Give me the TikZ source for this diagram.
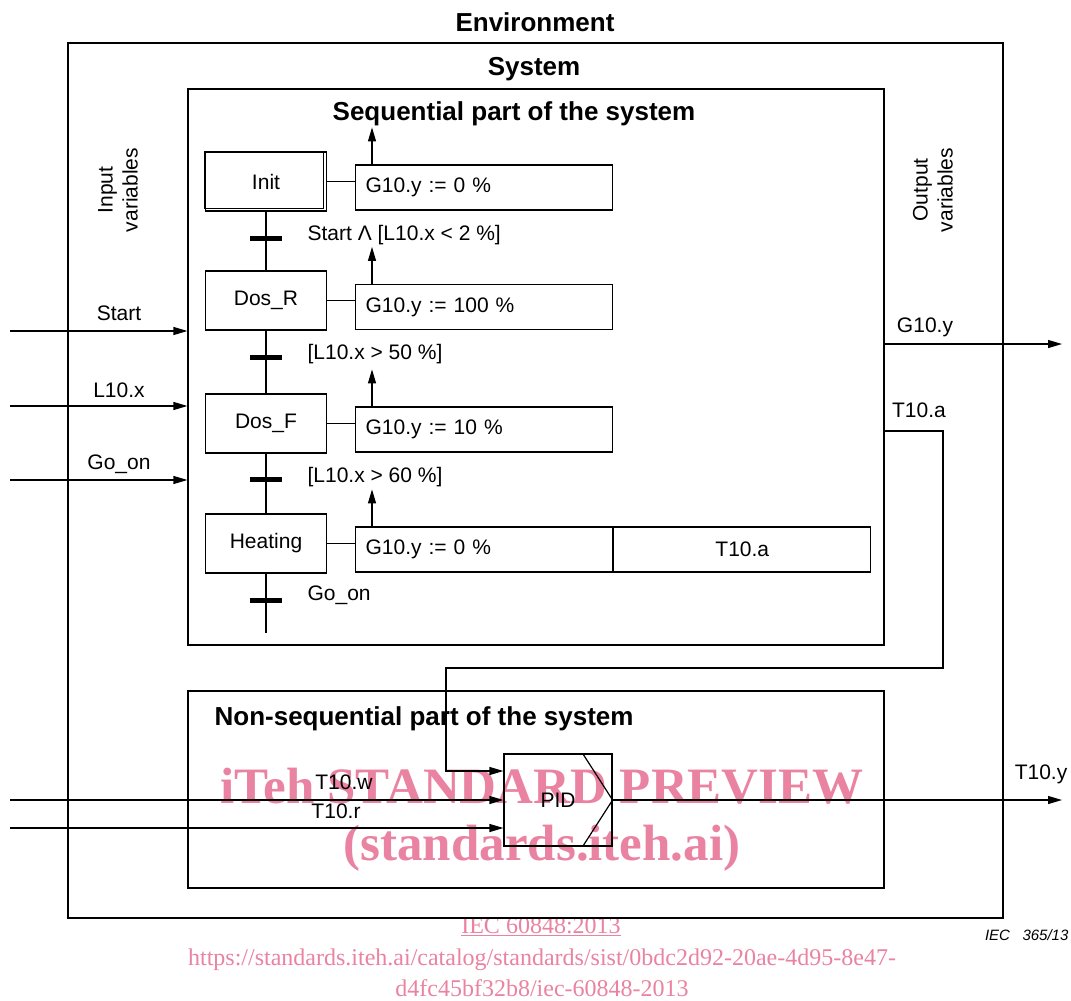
\documentclass[tikz,border=0pt]{standalone}
\usepackage{fontspec}
\setmainfont{Liberation Sans}
\newfontfamily\wmfont{Liberation Serif}
\usetikzlibrary{arrows.meta}
\definecolor{wmpink}{HTML}{EA83A2}
\tikzset{
  box/.style={draw,inner sep=0pt},
  stepbox/.style={draw,minimum width=121pt,minimum height=59pt,inner sep=0pt,
    font=\fontsize{21}{25}\selectfont},
  actbox/.style={draw,anchor=west,minimum height=45pt,text width=237pt,
    inner xsep=10pt,inner ysep=0pt,align=left,font=\fontsize{21}{25}\selectfont},
  trbar/.style={fill=black,minimum width=32pt,minimum height=5pt,inner sep=0pt},
  head/.style={font=\bfseries\fontsize{26}{30}\selectfont,inner sep=0pt},
  lbl/.style={font=\fontsize{21}{25}\selectfont,inner sep=0pt},
  sig/.style={-{Triangle[length=14pt,width=8pt]}},
  wmbig/.style={text=wmpink,font=\wmfont\bfseries\fontsize{51}{56}\selectfont,
    inner sep=0pt,anchor=base},
  wmsmall/.style={text=wmpink,font=\wmfont\fontsize{24}{28}\selectfont,
    inner sep=0pt,anchor=base},
}

\begin{document}
\begin{tikzpicture}[x=1pt,y=-1pt,line width=1.2pt,line join=miter]
\useasboundingbox (0,0) rectangle (1071,1001);
\fill[white] (0,0) rectangle (1071,1001);

% watermark (behind the drawing)
\node[wmbig] (wm1) at (542,803) {iTeh STANDARD PREVIEW};
\node[wmbig] (wm2) at (542,860) {(standards.iteh.ai)};
\node[wmsmall] (wm3) at (541,933) {\underline{IEC 60848:2013}};
\node[wmsmall] (wm4) at (542,965)
  {https://standards.iteh.ai/catalog/standards/sist/0bdc2d92-20ae-4d95-8e47-};
\node[wmsmall] (wm5) at (542,996) {d4fc45bf32b8/iec-60848-2013};

% frames
\node[head] (envt) at (535,22) {Environment};
\node[box,minimum width=935pt,minimum height=875pt] (sys) at (535.5,480.5) {};
\node[head] (syst) at (534,69) {System};
\node[box,minimum width=696pt,minimum height=556pt] (seq) at (536,367) {};
\node[head] (seqt) at (514,113.5) {Sequential part of the system};
\node[box,minimum width=696pt,minimum height=197pt] (nseq) at (536,789.5) {};
\node[head,anchor=west] (nseqt) at (214,719) {Non-sequential part of the system};

\node[lbl,rotate=90,align=center] (invar) at (118,190) {Input\\variables};
\node[lbl,rotate=90,align=center] (outvar) at (933,190) {Output\\variables};

% steps
\node[stepbox] (init) at (266,181.5) {Init};
\draw (init.north west) rectangle ([shift={(-4pt,3pt)}]init.south east);
\node[stepbox] (dosr) at (266,300.5) {Dos\_R};
\node[stepbox] (dosf) at (266,423.5) {Dos\_F};
\node[stepbox] (heat) at (266,543.5) {Heating};
\coordinate (seqend) at (266,633);
\draw (init) -- (dosr) -- (dosf) -- (heat) -- (seqend);

% transitions
\node[trbar] (t1) at (266,238) {};
\node[trbar] (t2) at (266,357) {};
\node[trbar] (t3) at (266,479) {};
\node[trbar] (t4) at (266,600) {};
\node[lbl,anchor=base west] (c1) at (307,240) {Start Λ [L10.x < 2 \%]};
\node[lbl,anchor=base west] (c2) at (307,359) {[L10.x > 50 \%]};
\node[lbl,anchor=base west] (c3) at (307,482) {[L10.x > 60 \%]};
\node[lbl,anchor=base west] (c4) at (307,600) {Go\_on};

% actions
\node[actbox] (act1) at (355,187.5) {G10.y := 0 \%};
\node[actbox] (act2) at (355,307) {G10.y := 100 \%};
\node[actbox] (act3) at (355,429.5) {G10.y := 10 \%};
\node[actbox] (act4) at (355,549.5) {G10.y := 0 \%};
\node[actbox,align=center] (act4b) at (act4.east) {T10.a};
\draw (init.east) -- (init.east -| act1.west);
\draw (dosr.east) -- (dosr.east -| act2.west);
\draw (dosf.east) -- (dosf.east -| act3.west);
\draw (heat.east) -- (heat.east -| act4.west);
\foreach \a in {act1,act2,act3,act4}
  \draw[sig] ([xshift=17pt]\a.north west) -- ++(0,-37);

% input variables
\foreach \nm/\yy in {start/331,lten/406,goon/480}{
  \coordinate (in-\nm) at (10,\yy);
  \draw[sig] (in-\nm) -- (in-\nm -| seq.west);
}
\node[lbl,anchor=base] (lstart) at (119,320.5) {Start};
\node[lbl,anchor=base] (llten) at (119,397.5) {L10.x};
\node[lbl,anchor=base] (lgoon) at (119,469.5) {Go\_on};

% output variables
\coordinate (gyout) at (1062,344);
\draw[sig] (gyout -| seq.east) -- (gyout);
\node[lbl,anchor=base] (lgy) at (925,332) {G10.y};
\node[lbl,anchor=base] (lta) at (919,417.5) {T10.a};

% PID
\node[box,lbl,minimum width=108pt,minimum height=92pt] (pid) at (558,800) {PID};
\draw ([xshift=-30pt]pid.north east) -- (pid.east) -- ([xshift=-30pt]pid.south east);
\coordinate (taout) at (884,431);
\coordinate (tabend) at (943,668);
\coordinate (tain) at (446,771);
\draw[sig] (taout) -| (tabend) -| (tain) -- (tain -| pid.west);
\coordinate (tw) at (10,800);
\draw[sig] (tw) -- (pid.west);
\coordinate (tr) at (10,828);
\draw[sig] (tr) -- (tr -| pid.west);
\node[lbl,anchor=base] (ltw) at (344,789.5) {T10.w};
\node[lbl,anchor=base] (ltr) at (336,818.5) {T10.r};
\coordinate (tyout) at (1062,800);
\draw[sig] (pid.east) -- (tyout);
\node[lbl,anchor=base] (lty) at (1041,779.5) {T10.y};

\node[anchor=base east,inner sep=0pt,font=\itshape\fontsize{15}{18}\selectfont]
  (figno) at (1069,940) {IEC\ \ \ 365/13};
\end{tikzpicture}
\end{document}
